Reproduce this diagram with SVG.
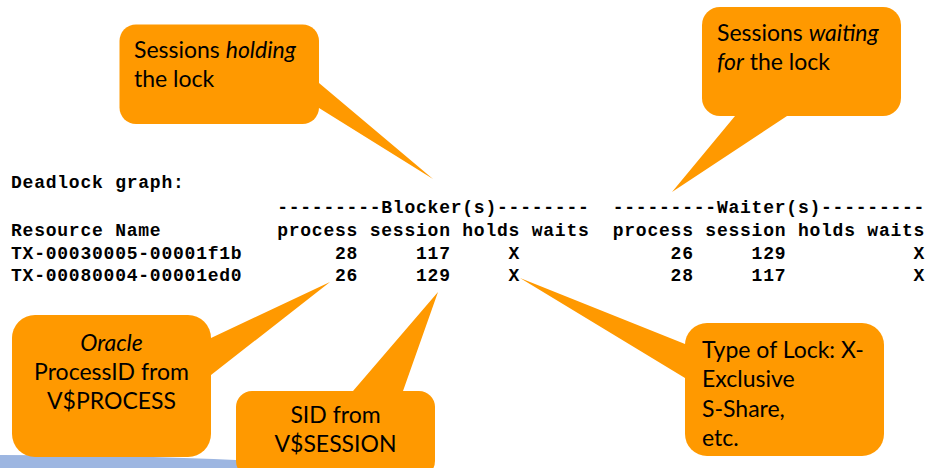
<svg xmlns="http://www.w3.org/2000/svg" width="932" height="468" viewBox="0 0 932 468">
  <style>
    .call { fill: #FF9900; }
    .tail { fill: #FF9900; }
    .note { font-family: Lato, "Open Sans", "Liberation Sans", sans-serif; font-size: 23px; fill: #000; }
    .mid { text-anchor: middle; }
    .em { font-style: italic; }
    .code { font-family: "Liberation Mono", "DejaVu Sans Mono", monospace; font-weight: bold; font-size: 18px; letter-spacing: 0.77px; fill: #000; }
  </style>

  <!-- pale blue shape peeking in at the bottom edge -->
  <ellipse cx="0" cy="497" rx="500" ry="42" fill="#9DB6E1"/>

  <!-- deadlock graph trace output -->
  <g id="trace">
    <text class="code" x="11" y="188" xml:space="preserve">Deadlock graph:</text>
    <text class="code" x="11" y="213" xml:space="preserve">                       ---------Blocker(s)--------  ---------Waiter(s)---------</text>
    <text class="code" x="11" y="235.5" xml:space="preserve">Resource Name          process session holds waits  process session holds waits</text>
    <text class="code" x="11" y="258.5" xml:space="preserve">TX-00030005-00001f1b        28     117     X             26     129           X</text>
    <text class="code" x="11" y="281" xml:space="preserve">TX-00080004-00001ed0        26     129     X             28     117           X</text>
  </g>

  <!-- callout pointers -->
  <g id="connectors">
    <polygon class="tail" points="305,83 319,83 433,179 319,108 305,108"/>
    <polygon class="tail" points="735,105 735,116 672,192 787,116 787,105"/>
    <polygon class="tail" points="200,338 211,338 330,282 211,375 200,375"/>
    <polygon class="tail" points="353,402 353,391 438,292 403,391 403,402"/>
    <polygon class="tail" points="697,344 685,344 520,278 685,378 697,378"/>
  </g>

  <g id="holding">
    <rect class="call" x="119.5" y="24.5" width="199.5" height="99.5" rx="16.5"/>
    <text class="note" x="134" y="58">Sessions <tspan class="em">holding</tspan></text>
    <text class="note" x="134" y="87">the lock</text>
  </g>

  <g id="waiting">
    <rect class="call" x="702" y="7" width="199" height="109" rx="18"/>
    <text class="note" x="717" y="41">Sessions <tspan class="em">waiting</tspan></text>
    <text class="note" x="717" y="70"><tspan class="em">for</tspan> the lock</text>
  </g>

  <g id="process-id">
    <rect class="call" x="12" y="315" width="199" height="142" rx="23"/>
    <text class="note mid em" x="111.5" y="351">Oracle</text>
    <text class="note mid" x="111.5" y="380">ProcessID from</text>
    <text class="note mid" x="111.5" y="409">V$PROCESS</text>
  </g>

  <g id="sid">
    <rect class="call" x="236" y="391" width="199" height="86" rx="16"/>
    <text class="note mid" x="335.5" y="423">SID from</text>
    <text class="note mid" x="335.5" y="452">V$SESSION</text>
  </g>

  <g id="lock-type">
    <rect class="call" x="685" y="323" width="199" height="133" rx="22"/>
    <text class="note" x="702" y="358">Type of Lock: X-</text>
    <text class="note" x="702" y="387">Exclusive</text>
    <text class="note" x="702" y="417">S-Share,</text>
    <text class="note" x="702" y="446">etc.</text>
  </g>
</svg>
